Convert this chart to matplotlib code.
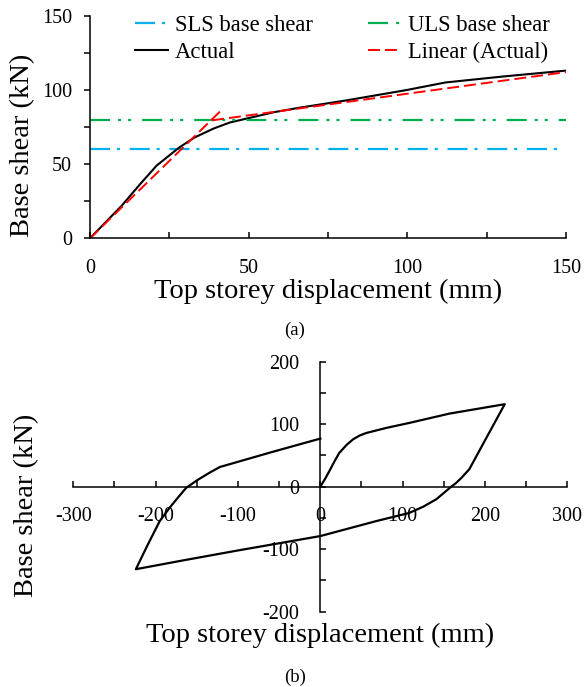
import matplotlib
matplotlib.use('Agg')
import matplotlib.pyplot as plt
from matplotlib.ticker import MultipleLocator

plt.rcParams['font.family'] = ['Liberation Serif', 'DejaVu Serif']
plt.rcParams['lines.scale_dashes'] = False
plt.rcParams['axes.unicode_minus'] = False

# (a) pushover curve
ACTUAL_DISP = [0, 5, 10, 16, 21, 28, 33, 39, 44, 50, 58, 66, 81, 100, 112, 130, 150]
ACTUAL_SHEAR = [0, 11, 22, 37, 49, 61, 68, 74, 78, 81, 85, 88, 93, 100, 105, 109, 113]
LINEAR1_DISP = [0, 41]
LINEAR1_SHEAR = [0, 85.5]
LINEAR2_DISP = [38.5, 150]
LINEAR2_SHEAR = [79.5, 112]
SLS_SHEAR = 60
ULS_SHEAR = 80
LIMIT_DISP = [0, 150]

# (b) hysteresis loop
LOOP_DISP = [0, 6, 11, 17, 23, 32, 40, 48, 56, 80, 108, 157, 224, 200, 181, 172,
             165, 159, 150, 141, 125, 108, 68, 0, -100, -167, -224, -210, -195,
             -182, -172, -163, -150, -135, -122, -60, 0]
LOOP_SHEAR = [0, 13, 25, 40, 54, 67, 76, 82, 86, 94, 102, 117, 132, 74, 28, 15,
              6, 0, -10, -20, -32, -42, -55, -79, -102, -118, -132, -94, -55,
              -32, -16, -2, 10, 22, 31.5, 55, 77]

W, H = 584, 687
fig = plt.figure(figsize=(W / 100, H / 100), dpi=100)

BLUE = '#00B0F0'
GREEN = '#00B050'
RED = '#FF0000'

# ---------- (a) ----------
ax1 = fig.add_axes([90 / W, 1 - 238.3 / H, 476 / W, 222.6 / H])
ax1.plot(LIMIT_DISP, [SLS_SHEAR] * 2, color=BLUE, lw=1.6,
         dashes=(14.4, 5, 2.2, 7), label='SLS base shear')
ax1.plot(ACTUAL_DISP, ACTUAL_SHEAR, color='black', lw=1.5, label='Actual')
ax1.plot(LIMIT_DISP, [ULS_SHEAR] * 2, color=GREEN, lw=1.6,
         dashes=(14.4, 5.8, 2.2, 5, 2.2, 7.9), label='ULS base shear')
ax1.plot(LINEAR1_DISP, LINEAR1_SHEAR, color=RED, lw=1.4, dashes=(8.6, 3.6),
         label='Linear (Actual)')
ax1.plot(LINEAR2_DISP, LINEAR2_SHEAR, color=RED, lw=1.4, dashes=(8.6, 3.6))

ax1.set_xlim(0, 150)
ax1.set_ylim(0, 150)
ax1.xaxis.set_major_locator(MultipleLocator(50))
ax1.xaxis.set_minor_locator(MultipleLocator(25))
ax1.yaxis.set_major_locator(MultipleLocator(50))
ax1.yaxis.set_minor_locator(MultipleLocator(25))
for s in ['top', 'right']:
    ax1.spines[s].set_visible(False)
for s in ['left', 'bottom']:
    ax1.spines[s].set_linewidth(1.1)
ax1.tick_params(axis='x', which='both', direction='in', length=4.5, width=1.1)
ax1.tick_params(axis='x', which='major', labelsize=14.5, pad=15)
ax1.tick_params(axis='y', which='both', direction='out', length=4, width=1.1)
ax1.tick_params(axis='y', which='major', labelsize=14.5, pad=9)
ax1.set_xlabel('Top storey displacement (mm)', fontsize=20.5)
ax1.xaxis.label.set_va('center')
ax1.xaxis.set_label_coords(0.5, -0.24)
ax1.set_ylabel('Base shear (kN)', fontsize=20.5)
ax1.yaxis.label.set_va('center')
ax1.yaxis.set_label_coords(-0.141, 0.419)
fig.legend(*ax1.get_legend_handles_labels(), loc='upper left',
           bbox_to_anchor=(135 / W, 1 - 15 / H), ncol=2, frameon=False,
           fontsize=16.3, handlelength=1.45, handletextpad=0.3,
           columnspacing=2.45, labelspacing=0.25, borderpad=0,
           borderaxespad=0)
fig.text(295 / W, 1 - 330 / H, '(a)', ha='center', va='center', fontsize=13.5)

# ---------- (b) ----------
ax2 = fig.add_axes([73.3 / W, 1 - 611.7 / H, 494 / W, 250 / H])
ax2.plot(LOOP_DISP, LOOP_SHEAR, color='black', lw=1.6)
ax2.set_xlim(-300, 300)
ax2.set_ylim(-200, 200)
ax2.xaxis.set_major_locator(MultipleLocator(100))
ax2.xaxis.set_minor_locator(MultipleLocator(50))
ax2.yaxis.set_major_locator(MultipleLocator(100))
ax2.yaxis.set_minor_locator(MultipleLocator(50))
for s in ['top', 'right']:
    ax2.spines[s].set_visible(False)
ax2.spines['left'].set_position(('data', 0))
ax2.spines['bottom'].set_position(('data', 0))
for s in ['left', 'bottom']:
    ax2.spines[s].set_linewidth(1.1)
ax2.tick_params(which='both', direction='in', length=4.5, width=1.1)
ax2.tick_params(axis='x', which='major', labelsize=14.5, pad=14.5)
ax2.tick_params(axis='y', which='major', labelsize=14.5, pad=15)
ax2.set_xlabel('Top storey displacement (mm)', fontsize=20.5)
ax2.xaxis.label.set_va('center')
ax2.xaxis.set_label_coords(0.5, -0.094)
ax2.set_ylabel('Base shear (kN)', fontsize=20.5)
ax2.yaxis.label.set_va('center')
ax2.yaxis.set_label_coords(-0.094, 0.425)
fig.text(295 / W, 1 - 677 / H, '(b)', ha='center', va='center', fontsize=13.5)

fig.savefig('out.png', dpi=100)
